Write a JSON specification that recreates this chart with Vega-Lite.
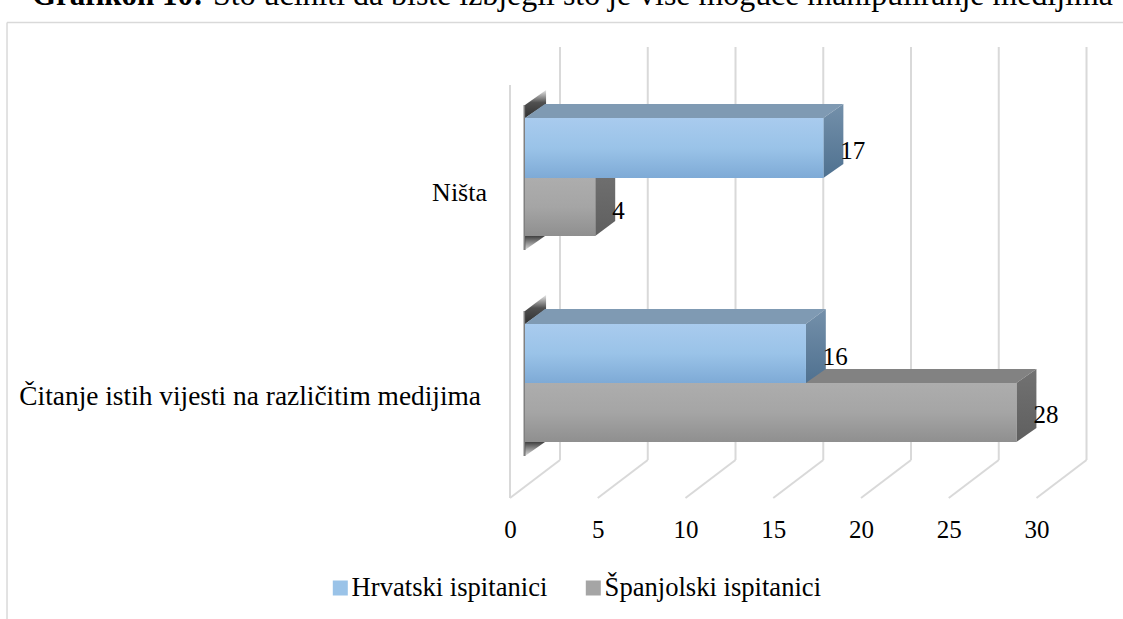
{"$schema":"https://vega.github.io/schema/vega-lite/v6.json","width":596.7,"height":453,"padding":{"left":510,"top":45,"right":16.3,"bottom":121},"autosize":{"type":"none"},"background":"white","config":{"view":{"stroke":null},"font":"Liberation Serif"},
"datasets":{"fronts":[{"series":"Španjolski ispitanici","category":"Ništa","x":0,"x2":4,"y":320,"y2":262},{"series":"Španjolski ispitanici","category":"Čitanje istih vijesti na različitim medijima","x":0,"x2":28,"y":115,"y2":56},{"series":"Hrvatski ispitanici","category":"Ništa","x":0,"x2":17,"y":380,"y2":320},{"series":"Hrvatski ispitanici","category":"Čitanje istih vijesti na različitim medijima","x":0,"x2":16,"y":174,"y2":115}]},
"encoding":{"x":{"field":"x","type":"quantitative","scale":{"domain":[0,34],"nice":false,"zero":false},"axis":{"values":[0,5,10,15,20,25,30],"title":null,"domain":false,"ticks":false,"grid":false,"labelFont":"Liberation Serif","labelFontSize":25,"labelColor":"#000000","labelBaseline":"alphabetic","labelPadding":39,"labelAngle":0,"labelFlush":false,"labelOverlap":false}},"y":{"field":"y","type":"quantitative","scale":{"domain":[0,453],"nice":false,"zero":false},"axis":null}},
"layer":[
{"data":{"values":[{"x":-28.66,"x2":35.3,"y":475.5,"y2":475.5},{"x":-28.66,"x2":-28.66,"y":475.5,"y2":-121}]},"mark":{"type":"rule","color":"#d9d9d9","strokeWidth":1.5,"clip":false},"encoding":{"x2":{"field":"x2"},"y2":{"field":"y2"}}},
{"data":{"values":[{"x":0,"x2":0,"y":0,"y2":413},{"x":0,"x2":2.85,"y":0,"y2":38},{"x":5,"x2":7.85,"y":0,"y2":38},{"x":10,"x2":12.85,"y":0,"y2":38},{"x":15,"x2":17.85,"y":0,"y2":38},{"x":20,"x2":22.85,"y":0,"y2":38},{"x":25,"x2":27.85,"y":0,"y2":38},{"x":30,"x2":32.85,"y":0,"y2":38},{"x":2.85,"x2":2.85,"y":38,"y2":451},{"x":7.85,"x2":7.85,"y":38,"y2":451},{"x":12.85,"x2":12.85,"y":38,"y2":451},{"x":17.85,"x2":17.85,"y":38,"y2":451},{"x":22.85,"x2":22.85,"y":38,"y2":451},{"x":27.85,"x2":27.85,"y":38,"y2":451},{"x":32.85,"x2":32.85,"y":38,"y2":451}]},"mark":{"type":"rule","color":"#d9d9d9","strokeWidth":2,"clip":false},"encoding":{"x2":{"field":"x2"},"y2":{"field":"y2"}}},
{"data":{"values":[{"id":"a","x":0,"y":393,"y2":380},{"id":"a","x":1.2,"y":408,"y2":394},{"id":"b","x":0,"y":187,"y2":174},{"id":"b","x":1.2,"y":203,"y2":189}]},"mark":{"type":"area","xOffset":15,"fill":{"gradient":"linear","x1":0,"y1":1,"x2":0,"y2":0,"stops":[{"offset":0,"color":"#303030"},{"offset":0.55,"color":"#505050"},{"offset":1,"color":"#e8e8e8"}]}},"encoding":{"y2":{"field":"y2"},"detail":{"field":"id"}}},
{"data":{"values":[{"id":"a","x":0,"y":262,"y2":248},{"id":"a","x":1.14,"y":262,"y2":262},{"id":"b","x":0,"y":56,"y2":42},{"id":"b","x":1.14,"y":56,"y2":56}]},"mark":{"type":"area","xOffset":15,"fill":{"gradient":"linear","x1":0,"y1":0,"x2":0,"y2":1,"stops":[{"offset":0,"color":"#404040"},{"offset":1,"color":"#e0e0e0"}]}},"encoding":{"y2":{"field":"y2"},"detail":{"field":"id"}}},
{"data":{"values":[{"x":0,"x2":0,"y":248,"y2":393},{"x":0,"x2":0,"y":42,"y2":187}]},"mark":{"type":"rule","color":"#555555","strokeWidth":2,"opacity":0.75,"xOffset":14.5,"x2Offset":14.5},"encoding":{"x2":{"field":"x2"},"y2":{"field":"y2"}}},
{"data":{"values":[{"id":"n","x":0,"y":320,"y2":320},{"id":"n","x":1.14,"y":334,"y2":320},{"id":"n","x":4,"y":334,"y2":320},{"id":"n","x":5.14,"y":334,"y2":334},{"id":"c","x":0,"y":115,"y2":115},{"id":"c","x":1.14,"y":129,"y2":115},{"id":"c","x":28,"y":129,"y2":115},{"id":"c","x":29.14,"y":129,"y2":129}]},"mark":{"type":"area","xOffset":15,"fill":"#828282"},"encoding":{"y2":{"field":"y2"},"detail":{"field":"id"}}},
{"data":{"values":[{"id":"n","x":4,"y":320,"y2":262},{"id":"n","x":5.14,"y":334,"y2":277},{"id":"c","x":28,"y":115,"y2":56},{"id":"c","x":29.14,"y":129,"y2":70}]},"mark":{"type":"area","xOffset":15,"fill":{"gradient":"linear","x1":0,"y1":0,"x2":0,"y2":1,"stops":[{"offset":0,"color":"#727272"},{"offset":1,"color":"#5f5f5f"}]}},"encoding":{"y2":{"field":"y2"},"detail":{"field":"id"}}},
{"data":{"values":[{"id":"n","x":0,"y":380,"y2":380},{"id":"n","x":1.14,"y":394,"y2":380},{"id":"n","x":17,"y":394,"y2":380},{"id":"n","x":18.14,"y":394,"y2":394},{"id":"c","x":0,"y":174,"y2":174},{"id":"c","x":1.14,"y":189,"y2":174},{"id":"c","x":16,"y":189,"y2":174},{"id":"c","x":17.14,"y":189,"y2":189}]},"mark":{"type":"area","xOffset":15,"fill":"#7f9ab3"},"encoding":{"y2":{"field":"y2"},"detail":{"field":"id"}}},
{"data":{"values":[{"id":"n","x":17,"y":380,"y2":320},{"id":"n","x":18.14,"y":394,"y2":334},{"id":"c","x":16,"y":174,"y2":115},{"id":"c","x":17.14,"y":189,"y2":129}]},"mark":{"type":"area","xOffset":15,"fill":{"gradient":"linear","x1":0,"y1":0,"x2":0,"y2":1,"stops":[{"offset":0,"color":"#7490aa"},{"offset":1,"color":"#4f7190"}]}},"encoding":{"y2":{"field":"y2"},"detail":{"field":"id"}}},
{"data":{"name":"fronts"},"mark":{"type":"rect","xOffset":15,"x2Offset":15},"encoding":{"x2":{"field":"x2"},"y2":{"field":"y2"},"color":{"field":"series","type":"nominal","sort":null,"scale":{"domain":["Hrvatski ispitanici","Španjolski ispitanici"],"range":["#9ac3e8","#a5a5a5"]},"legend":{"title":null,"orient":"none","legendX":-183,"legendY":528,"direction":"horizontal","columns":2,"columnPadding":32,"symbolType":"square","symbolSize":225,"symbolStrokeWidth":0,"labelFont":"Liberation Serif","labelFontSize":26.6,"labelColor":"#000000","labelOffset":-2,"labelLimit":400,"padding":0,"clipHeight":30,"encode":{"symbols":{"update":{"fill":[{"test":"datum.value === 'Hrvatski ispitanici'","value":{"gradient":"linear","x1":0,"y1":0,"x2":0,"y2":1,"stops":[{"offset":0,"color":"#a9cbee"},{"offset":1,"color":"#7eaad6"}]}},{"value":{"gradient":"linear","x1":0,"y1":0,"x2":0,"y2":1,"stops":[{"offset":0,"color":"#adadad"},{"offset":1,"color":"#8f8f8f"}]}}]}}}}}}},
{"data":{"name":"fronts"},"transform":[{"filter":"datum.series === 'Španjolski ispitanici'"}],"mark":{"type":"rect","xOffset":15,"x2Offset":15,"fill":{"gradient":"linear","x1":0,"y1":0,"x2":0,"y2":1,"stops":[{"offset":0,"color":"#adadad"},{"offset":0.5,"color":"#a5a5a5"},{"offset":1,"color":"#8f8f8f"}]}},"encoding":{"x2":{"field":"x2"},"y2":{"field":"y2"}}},
{"data":{"name":"fronts"},"transform":[{"filter":"datum.series === 'Hrvatski ispitanici'"}],"mark":{"type":"rect","xOffset":15,"x2Offset":15,"fill":{"gradient":"linear","x1":0,"y1":0,"x2":0,"y2":1,"stops":[{"offset":0,"color":"#a9cbee"},{"offset":0.5,"color":"#9ac3e8"},{"offset":1,"color":"#7eaad6"}]}},"encoding":{"x2":{"field":"x2"},"y2":{"field":"y2"}}},
{"data":{"values":[{"t":"17","x":17,"y":339},{"t":"4","x":4,"y":279},{"t":"16","x":16,"y":133},{"t":"28","x":28,"y":75}]},"mark":{"type":"text","align":"left","baseline":"alphabetic","font":"Liberation Serif","fontSize":25,"color":"#000000","xOffset":32},"encoding":{"text":{"field":"t"}}},
{"data":{"values":[{"t":"Ništa","x":-1.31,"y":297}]},"mark":{"type":"text","align":"right","baseline":"alphabetic","font":"Liberation Serif","fontSize":26,"color":"#000000"},"encoding":{"text":{"field":"t"}}},
{"data":{"values":[{"t":"Čitanje istih vijesti na različitim medijima","x":-1.65,"y":93}]},"mark":{"type":"text","align":"right","baseline":"alphabetic","font":"Liberation Serif","fontSize":27.4,"color":"#000000"},"encoding":{"text":{"field":"t"}}},
{"data":{"values":[{"t":"Grafikon 10:","x":-27.24,"y":493}]},"mark":{"type":"text","align":"left","baseline":"alphabetic","font":"Liberation Serif","fontSize":31,"fontWeight":"bold","color":"#000000"},"encoding":{"text":{"field":"t"}}},
{"data":{"values":[{"t":"Što učiniti da biste izbjegli što je više moguće manipuliranje medijima","x":-16.92,"y":493}]},"mark":{"type":"text","align":"left","baseline":"alphabetic","font":"Liberation Serif","fontSize":31.9,"color":"#000000"},"encoding":{"text":{"field":"t"}}}
]}
